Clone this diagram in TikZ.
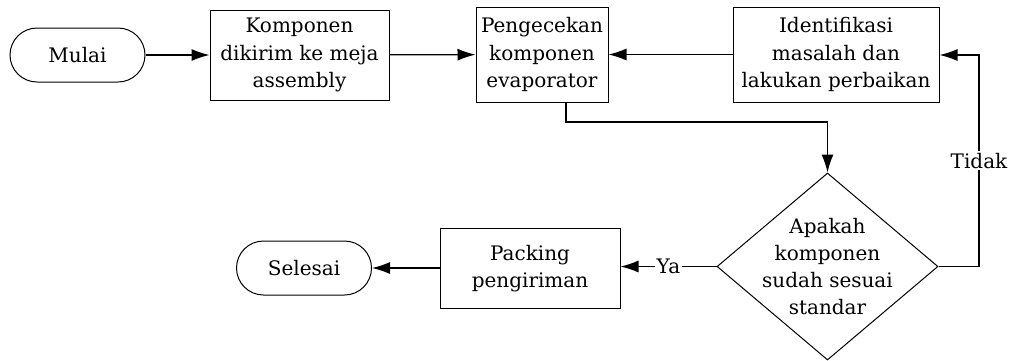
\documentclass[tikz,border=0pt]{standalone}
\usepackage{fontspec}
\setmainfont{DejaVu Serif}
\usetikzlibrary{shapes.geometric,arrows.meta}
\begin{document}
\begin{tikzpicture}[x=0.5pt,y=-0.5pt,
  every node/.style={font=\fontsize{10}{13.6}\selectfont},
  box/.style={draw, line width=0.5pt, align=center, inner sep=0pt},
  term/.style={draw, line width=0.5pt, rounded corners=13.5pt, align=center, inner sep=0pt, minimum width=67.5pt, minimum height=27pt},
  dec/.style={draw, line width=0.5pt, diamond, aspect=1.18, inner sep=0pt, minimum width=110.5pt, minimum height=93.5pt},
  conn/.style={line width=0.6pt, -{Latex[length=9pt,width=6pt]}},
  lbl/.style={fill=white, inner sep=1pt}]
\useasboundingbox (0,0) rectangle (1011,360);
\node[term] (mulai) at (77.5,55) {Mulai};
\node[box, minimum width=89.5pt, minimum height=45pt] (b1) at (299.5,55) {Komponen\\dikirim ke meja\\assembly};
\node[box, minimum width=66pt, minimum height=47.5pt] (b2) at (542,54.5) {Pengecekan\\komponen\\evaporator};
\node[box, minimum width=103pt, minimum height=47.5pt] (b3) at (836,54.5) {Identifikasi\\masalah dan\\lakukan perbaikan};
\node[dec] (d) at (827.5,266.5) {};
\node[align=center, inner sep=0pt] (dtext) at (d.center) {Apakah\\komponen\\sudah sesuai\\standar};
\node[box, minimum width=90pt, minimum height=40pt] (b4) at (530,268.5) {Packing\\pengiriman};
\node[term] (selesai) at (304,268) {Selesai};
\coordinate (c1) at (566,122);
\coordinate (c2) at (827.5,122);
\coordinate (c3) at (979,266.5);
\coordinate (c4) at (979,55);
\draw[conn] (mulai) -- (b1);
\draw[conn] (b1) -- (b2);
\draw[conn] (b3) -- (b2);
\draw[conn] (b2.south -| c1) -- (c1) -- (c2) -- (d.north);
\draw[conn] (d.east) -- (c3) -- node[lbl, pos=0.5] {Tidak} (c4) -- (b3.east |- c4);
\draw[conn] (d.west) -- node[lbl, pos=0.5] {Ya} (b4.east |- d.west);
\draw[conn] (b4.west |- selesai) -- (selesai);
\end{tikzpicture}
\end{document}
